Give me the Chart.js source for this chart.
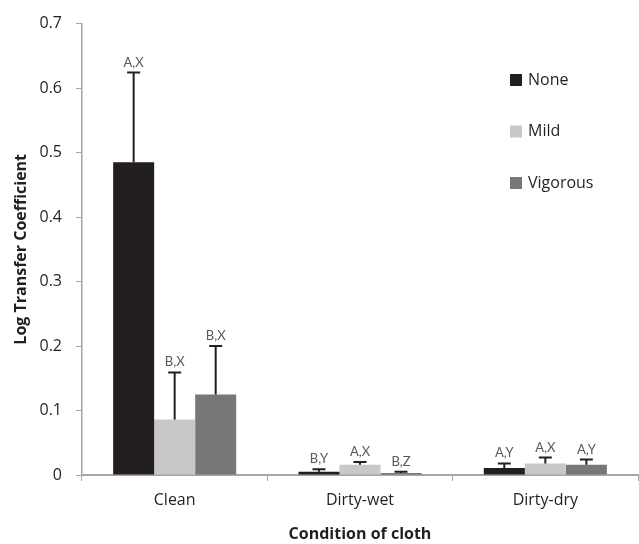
<!DOCTYPE html>
<html>
<head>
<meta charset="utf-8">
<script src="https://cdn.jsdelivr.net/npm/chart.js@4.4.0/dist/chart.umd.min.js"></script>
<style>
  html, body { margin: 0; padding: 0; background: #fff; }
  #wrap { width: 639px; height: 544px; }
</style>
</head>
<body>
<div id="wrap"><canvas id="chart" width="639" height="544"></canvas></div>
<script>
// data
const categories = ['Clean', 'Dirty-wet', 'Dirty-dry'];
const seriesNames = ['None', 'Mild', 'Vigorous'];
const noneValues = [0.485, 0.005, 0.011];
const mildValues = [0.086, 0.016, 0.018];
const vigorousValues = [0.125, 0.003, 0.016];
// upper error (added on top of bar)
const noneErrors = [0.139, 0.004, 0.007];
const mildErrors = [0.073, 0.004, 0.009];
const vigorousErrors = [0.075, 0.002, 0.008];
// significance letters above each bar
const noneLetters = ['A,X', 'B,Y', 'A,Y'];
const mildLetters = ['B,X', 'A,X', 'A,X'];
const vigorousLetters = ['B,X', 'B,Z', 'A,Y'];
const yTicks = [0, 0.1, 0.2, 0.3, 0.4, 0.5, 0.6, 0.7];

const colors = ['#231f20', '#c8c8ca', '#77777a'];
const axisGray = '#a6a6a6';
const textDark = '#231f20';
const fontFamily = '"Open Sans", Lato, sans-serif';

Chart.defaults.font.family = fontFamily;
Chart.defaults.color = textDark;

const errorBars = {
    id: 'errorBars',
    afterDatasetsDraw(chart) {
        const ctx = chart.ctx;
        const yScale = chart.scales.y;
        ctx.save();
        chart.data.datasets.forEach((ds, i) => {
            const meta = chart.getDatasetMeta(i);
            meta.data.forEach((bar, j) => {
                const top = yScale.getPixelForValue(ds.data[j] + ds.errors[j]);
                ctx.strokeStyle = '#231f20';
                ctx.lineWidth = 2;
                ctx.beginPath();
                ctx.moveTo(bar.x, bar.y);
                ctx.lineTo(bar.x, top);
                ctx.moveTo(bar.x - 6.5, top);
                ctx.lineTo(bar.x + 6.5, top);
                ctx.stroke();
                ctx.fillStyle = '#58595b';
                ctx.font = '13px Lato, sans-serif';
                ctx.textAlign = 'center';
                ctx.textBaseline = 'alphabetic';
                ctx.fillText(ds.letters[j], bar.x, top - 6);
            });
        });
        ctx.restore();
    }
};

const sideLegend = {
    id: 'sideLegend',
    afterDraw(chart) {
        const ctx = chart.ctx;
        ctx.save();
        chart.data.datasets.forEach((ds, i) => {
            const y = 80 + i * 51.5;
            ctx.fillStyle = ds.backgroundColor;
            ctx.fillRect(510, y - 6, 12, 12);
            ctx.fillStyle = textDark;
            ctx.font = '16px ' + fontFamily;
            ctx.textAlign = 'left';
            ctx.textBaseline = 'middle';
            ctx.fillText(ds.label, 528, y);
        });
        ctx.restore();
    }
};

const valueSets = [noneValues, mildValues, vigorousValues];
const errorSets = [noneErrors, mildErrors, vigorousErrors];
const letterSets = [noneLetters, mildLetters, vigorousLetters];

new Chart(document.getElementById('chart'), {
    type: 'bar',
    data: {
        labels: categories,
        datasets: seriesNames.map((name, i) => ({
            label: name,
            data: valueSets[i],
            errors: errorSets[i],
            letters: letterSets[i],
            backgroundColor: colors[i],
            borderWidth: 0,
            categoryPercentage: 0.664,
            barPercentage: 1.0
        }))
    },
    options: {
        responsive: false,
        animation: false,
        devicePixelRatio: 1,
        layout: { padding: { top: 18, right: 1, left: 0, bottom: 0 } },
        plugins: {
            legend: { display: false },
            tooltip: { enabled: false }
        },
        scales: {
            x: {
                afterFit: (scale) => { scale.height = 69; },
                border: { color: axisGray, width: 2 },
                grid: { display: true, drawOnChartArea: false, drawTicks: true, tickLength: 6, color: axisGray, lineWidth: 1 },
                ticks: { font: { size: 16 }, color: textDark, padding: 10 },
                title: {
                    display: true,
                    text: 'Condition of cloth',
                    font: { size: 16, weight: 'bold' },
                    color: textDark,
                    padding: { top: 0, bottom: 0 }
                }
            },
            y: {
                min: 0,
                max: 0.7,
                afterFit: (scale) => { scale.width = 82; },
                afterBuildTicks: (scale) => { scale.ticks = yTicks.map(v => ({ value: v })); },
                border: { color: axisGray, width: 1.5 },
                grid: { display: true, drawOnChartArea: false, drawTicks: true, tickLength: 6, color: axisGray, lineWidth: 1 },
                ticks: {
                    font: { size: 16 },
                    color: textDark,
                    padding: 14,
                    callback: (v) => String(Math.round(v * 10) / 10)
                },
                title: {
                    display: true,
                    text: 'Log Transfer Coefficient',
                    font: { size: 16, weight: 'bold' },
                    color: textDark,
                    padding: { top: 12, bottom: 0 }
                }
            }
        }
    },
    plugins: [errorBars, sideLegend]
});
</script>
</body>
</html>
